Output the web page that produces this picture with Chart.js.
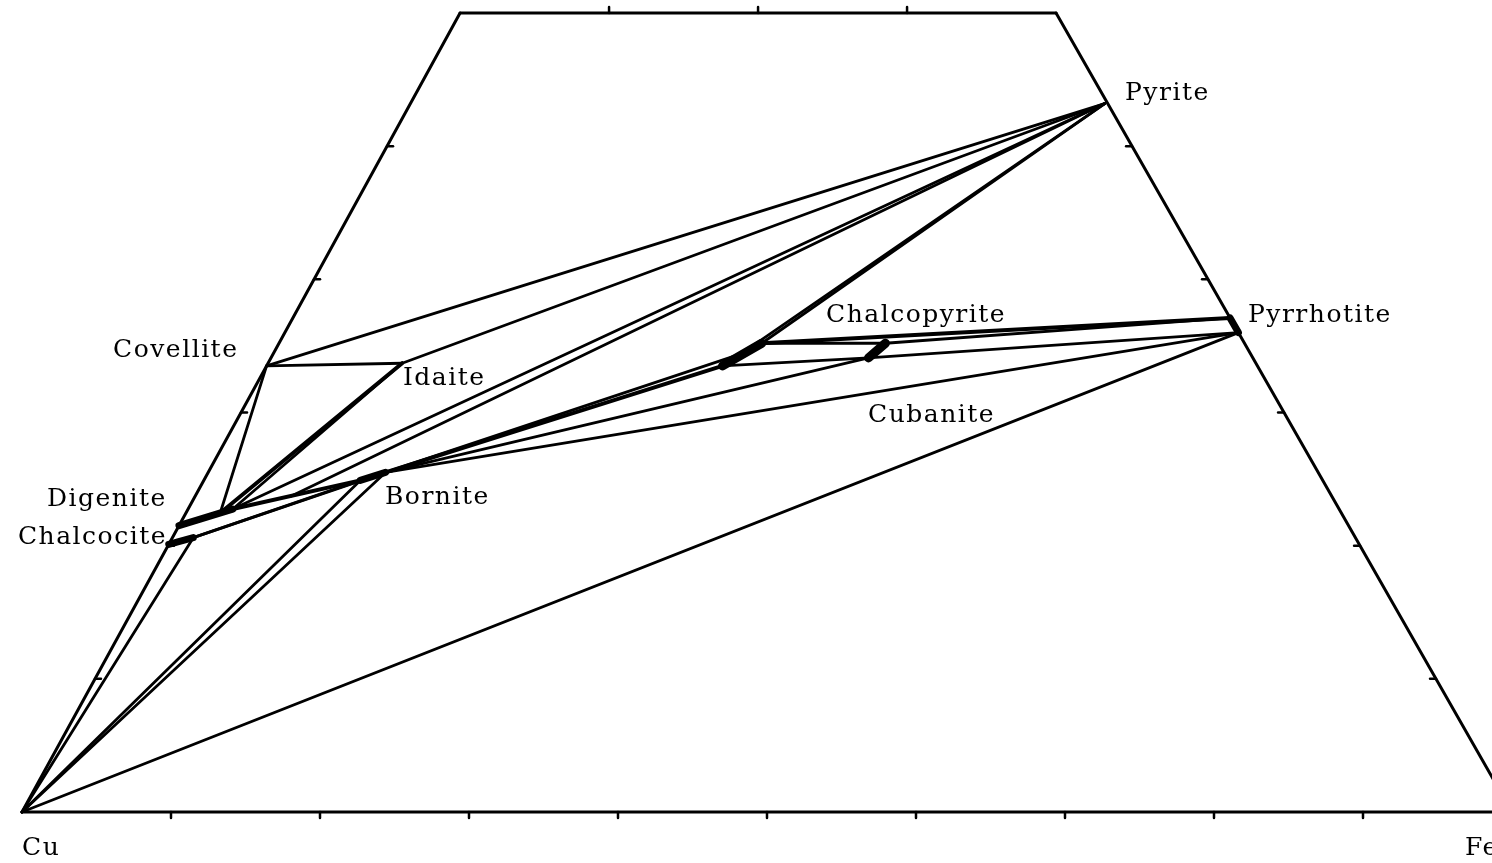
<!DOCTYPE html>
<html>
<head>
<meta charset="utf-8">
<script src="https://cdn.jsdelivr.net/npm/chart.js@4.4.1/dist/chart.umd.min.js"></script>
<style>
  html, body { margin: 0; padding: 0; background: #fff; }
  canvas { display: block; }
</style>
</head>
<body>
<canvas id="chart" width="1492" height="863"></canvas>
<script>
// Cu-Fe-S diagram, weight per cent, triangle cut off at 60 % S
const points = ['Cu', 'Fe', 'S60Cu', 'S60Fe', 'Py', 'Po1', 'Po2', 'Cv', 'Id', 'Dg1', 'Dg2', 'Dg3', 'BnDg',
                'Cc1', 'Cc2', 'Bn1', 'Bn2', 'Cp1', 'Cpm', 'Cp2', 'Cb1', 'Cb2'];
const sulfur = [0, 0, 60, 60, 53.2, 37.1, 36.0, 33.5, 33.7, 21.5, 22.45, 22.75, 23.7,
                20.1, 20.6, 24.9, 25.5, 33.5, 34.4, 35.2, 34.1, 35.2];
const iron   = [0, 100, 0, 40, 46.6, 62.9, 64.0, 0, 9.0, 0, 2.3, 3.0, 6.4,
                0, 1.4, 10.5, 11.9, 30.6, 31.4, 32.4, 40.1, 40.7];

const frame = [['Cu', 'Fe'], ['Cu', 'S60Cu'], ['S60Cu', 'S60Fe'], ['S60Fe', 'Fe']];

// small solid solution fields
const fields = [['Dg1', 'Dg3'], ['Cc1', 'Cc2'], ['Bn1', 'Bn2'], ['Po1', 'Po2']];
const blobs = [['Cp1', 'Cp2'], ['Cb1', 'Cb2']];

const heavyTies = [['Id', 'Dg2'], ['Dg3', 'Bn1'], ['Bn2', 'Cp1'], ['Cp2', 'Po1']];

const tieLines = [
  ['Cv', 'Py'], ['Cv', 'Id'], ['Cv', 'Dg2'], ['Id', 'Py'], ['Id', 'Dg3'],
  ['Dg3', 'Py'], ['BnDg', 'Py'],
  ['Cc2', 'Bn1'], ['Cc2', 'Bn2'],
  ['Cu', 'Cc2'], ['Cu', 'Bn1'], ['Cu', 'Bn2'], ['Cu', 'Po2'],
  ['Bn2', 'Cpm'], ['Bn2', 'Cb1'], ['Bn2', 'Po2'],
  ['Cpm', 'Py'], ['Cp2', 'Py'],
  ['Cp2', 'Cb2'], ['Cp1', 'Cb1'],
  ['Cb2', 'Po1'], ['Cb1', 'Po2']
];

// tick marks, per cent
const edgeTicks = [10, 20, 30, 40, 50];
const bottomTicks = [10, 20, 30, 40, 50, 60, 70, 80, 90];
const topTicks = [10, 20, 30];

const labelText = ['Pyrite', 'Pyrrhotite', 'Chalcopyrite', 'Covellite', 'Idaite', 'Cubanite',
                   'Digenite', 'Chalcocite', 'Bornite', 'Cu', 'Fe'];

// where the labels sit, in plot units
const labelPlace = [
  [74.03, 53.92], [82.28, 37.32], [53.96, 37.25], [6.11, 34.69], [25.57, 32.59], [56.78, 29.81],
  [1.68, 23.43], [-0.27, 20.65], [24.36, 23.65], [0, -2.75], [96.85, -2.75]
];

// projection of a composition onto the plot
const SKEW = 0.49;
function proj(s, fe) {
  return { x: fe + SKEW * s, y: s };
}
function node(name) {
  const i = points.indexOf(name);
  return proj(sulfur[i], iron[i]);
}

const datasets = [];
function addSeg(a, b, width) {
  datasets.push({
    data: [a, b],
    showLine: true,
    borderColor: '#000',
    borderWidth: width,
    borderCapStyle: 'round',
    pointRadius: 0,
    clip: false
  });
}

frame.forEach(p => addSeg(node(p[0]), node(p[1]), 3));
tieLines.forEach(p => addSeg(node(p[0]), node(p[1]), 2.8));
heavyTies.forEach(p => addSeg(node(p[0]), node(p[1]), 4));
fields.forEach(p => addSeg(node(p[0]), node(p[1]), 7));
blobs.forEach(p => addSeg(node(p[0]), node(p[1]), 9));

edgeTicks.forEach(t => {
  const l = proj(t, 0);
  addSeg(l, { x: l.x + 0.4, y: l.y }, 2.5);
  const r = proj(t, 100 - t);
  addSeg(r, { x: r.x - 0.4, y: r.y }, 2.5);
});
bottomTicks.forEach(t => {
  const b = proj(0, t);
  addSeg(b, { x: b.x, y: b.y - 0.45 }, 2.5);
});
topTicks.forEach(t => {
  const p = proj(60, t);
  addSeg(p, { x: p.x, y: p.y + 0.45 }, 2.5);
});

const labelPlugin = {
  id: 'labels',
  afterDatasetsDraw(chart) {
    const ctx = chart.ctx;
    const xs = chart.scales.x;
    const ys = chart.scales.y;
    ctx.save();
    ctx.fillStyle = '#000';
    ctx.font = '25px "DejaVu Serif"';
    ctx.letterSpacing = '1.5px';
    ctx.textBaseline = 'middle';
    ctx.textAlign = 'left';
    labelText.forEach((txt, i) => {
      ctx.fillText(txt, xs.getPixelForValue(labelPlace[i][0]), ys.getPixelForValue(labelPlace[i][1]));
    });
    ctx.restore();
  }
};

const ctx = document.getElementById('chart').getContext('2d');
new Chart(ctx, {
  type: 'scatter',
  data: { datasets: datasets },
  options: {
    responsive: false,
    animation: false,
    layout: { padding: 0 },
    plugins: {
      legend: { display: false },
      tooltip: { enabled: false }
    },
    scales: {
      x: { type: 'linear', min: -1.4765, max: 98.658, display: false },
      y: { type: 'linear', min: -3.83, max: 60.976, display: false }
    }
  },
  plugins: [labelPlugin]
});
</script>
</body>
</html>
